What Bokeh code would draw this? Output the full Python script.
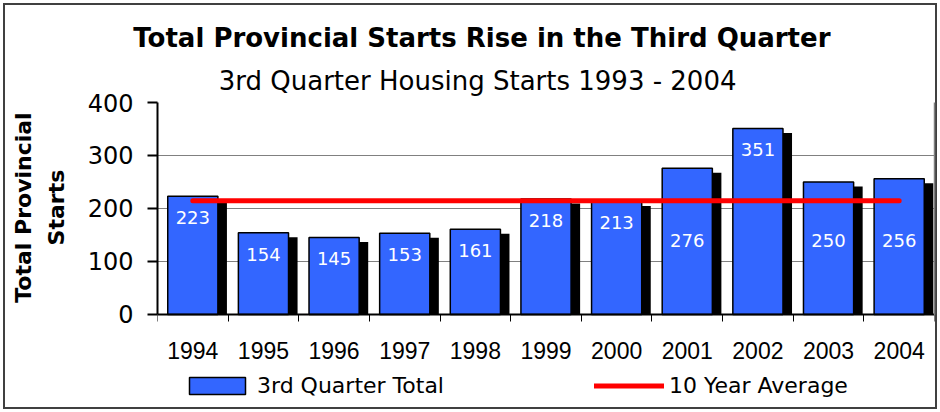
from bokeh.plotting import figure
from bokeh.models import (Range1d, FixedTicker, Title, Legend, LegendItem, ColumnDataSource, LinearAxis)
from bokeh.transform import dodge
from bokeh.core.properties import value
from bokeh.embed import file_html
from bokeh.resources import INLINE

# ---- data ----
years = ["1994", "1995", "1996", "1997", "1998", "1999", "2000", "2001", "2002", "2003", "2004"]
q3_starts = [223, 154, 145, 153, 161, 218, 213, 276, 351, 250, 256]
ten_year_average = 214.4
y_ticks = [0, 100, 200, 300, 400]
title_text = "Total Provincial Starts Rise in the Third Quarter"
subtitle_text = "3rd Quarter Housing Starts 1993 - 2004"
bar_legend = "3rd Quarter Total"
line_legend = "10 Year Average"
y_title_lines = ["Total Provincial", "Starts"]

# ---- styling / layout constants ----
BAR_W = 0.71
SHADOW_DX = 0.128
SHADOW_DY = 8.5
LABEL_DROP = 40
Y_FLOOR = -170          # extra room below 0 for the axis labels and legend
Y_TITLE_PAD = "\u00a0" * 12   # lifts the y title to the middle of the 0-400 span
BLUE = "#3366FF"
RED = "#FF0000"
GRID = "#808080"

idx = list(range(len(years)))
label_y = []
for v in q3_starts:
    y = v - LABEL_DROP
    if abs(y - ten_year_average) < 30:
        y = ten_year_average - 75
    label_y.append(y)

src = ColumnDataSource(dict(
    x=idx,
    top=q3_starts,
    shadow_top=[v - SHADOW_DY for v in q3_starts],
    label_y=label_y,
    label=[str(v) for v in q3_starts],
    avg=[ten_year_average] * len(idx),
))

p = figure(width=940, height=412, output_backend="svg", toolbar_location=None,
           title=None, x_axis_location=None,
           x_range=Range1d(-0.5, len(years) - 0.5), y_range=Range1d(Y_FLOOR, y_ticks[-1]),
           min_border_left=157, min_border_right=6, min_border_top=102, min_border_bottom=8)
p.border_fill_color = None
p.background_fill_color = None
p.styles = {"box-shadow": "inset 0 0 0 3px white, inset 0 0 0 5px #404040"}

p.outline_line_color = None
p.xgrid.visible = False
p.ygrid.grid_line_color = GRID
p.ygrid.grid_line_width = 1
p.ygrid.ticker = FixedTicker(ticks=y_ticks)

# shadow bars
p.vbar(x=dodge("x", SHADOW_DX), top="shadow_top", bottom=0, width=BAR_W,
       fill_color="black", line_color=None, source=src)
bars = p.vbar(x="x", top="top", bottom=0, width=BAR_W, fill_color=BLUE,
              line_color="black", line_width=1.5, source=src)
avg_line = p.line(x="x", y="avg", line_color=RED, line_width=5, line_cap="round", source=src)
p.text(x="x", y="label_y", text="label", text_color="white",
       text_font=value("DejaVu Sans"), text_font_size="18px",
       text_align="center", text_baseline="middle", source=src)

# x axis, fixed at y = 0
xa = LinearAxis(fixed_location=0)
xa.ticker = FixedTicker(ticks=idx, minor_ticks=[i - 0.5 for i in idx] + [idx[-1] + 0.5])
xa.major_label_overrides = {i: yr for i, yr in zip(idx, years)}
xa.major_label_text_font = "Liberation Sans"
xa.major_label_text_font_size = "23px"
xa.major_label_text_color = "black"
xa.major_label_standoff = 21
xa.major_tick_out = 0
xa.major_tick_in = 0
xa.minor_tick_out = 7
xa.minor_tick_in = 0
xa.minor_tick_line_color = "black"
xa.minor_tick_line_width = 1
xa.axis_line_color = "black"
xa.axis_line_width = 2
p.add_layout(xa, "below")

# y axis
ya = p.yaxis[0]
ya.ticker = FixedTicker(ticks=y_ticks)
ya.bounds = (y_ticks[0], y_ticks[-1])
ya.major_label_text_font = "DejaVu Sans"
ya.major_label_text_font_size = "24px"
ya.major_label_text_color = "black"
ya.major_label_standoff = 14
ya.major_tick_out = 10
ya.major_tick_in = 0
ya.major_tick_line_width = 2
ya.major_tick_line_color = "black"
ya.minor_tick_line_color = None
ya.axis_line_color = "black"
ya.axis_line_width = 2
ya.axis_label = "\n".join(Y_TITLE_PAD + s for s in y_title_lines)
ya.axis_label_text_font = "DejaVu Sans"
ya.axis_label_text_font_size = "22px"
ya.axis_label_text_font_style = "bold"
ya.axis_label_text_color = "black"
ya.axis_label_text_line_height = 1.3
ya.axis_label_standoff = 16

# right-hand gray border of the plot area
ra = LinearAxis(bounds=(y_ticks[0], y_ticks[-1]), ticker=FixedTicker(ticks=[]),
                axis_line_color=GRID, axis_line_width=1.5,
                major_tick_line_color=None, minor_tick_line_color=None)
p.add_layout(ra, "right")

# titles (subtitle is closest to the frame)
p.add_layout(Title(text=subtitle_text, text_font="DejaVu Sans", text_font_size="26px",
                   text_font_style="normal", text_color="black", align="right",
                   offset=198, standoff=14), "above")
p.add_layout(Title(text=title_text, text_font="DejaVu Sans", text_font_size="26px",
                   text_font_style="bold", text_color="black", align="right",
                   offset=104, standoff=8), "above")

legend = Legend(items=[LegendItem(label=bar_legend, renderers=[bars]),
                       LegendItem(label=line_legend, renderers=[avg_line])],
                orientation="horizontal", location=(25, 6),
                glyph_width=70, glyph_height=21, label_height=17, label_standoff=5, spacing=150,
                padding=0, margin=0, border_line_color=None, background_fill_alpha=0,
                label_text_font="DejaVu Sans", label_text_font_size="22px",
                label_text_color="black")
p.add_layout(legend, "center")

open("out.html", "w").write(file_html(p, INLINE))
